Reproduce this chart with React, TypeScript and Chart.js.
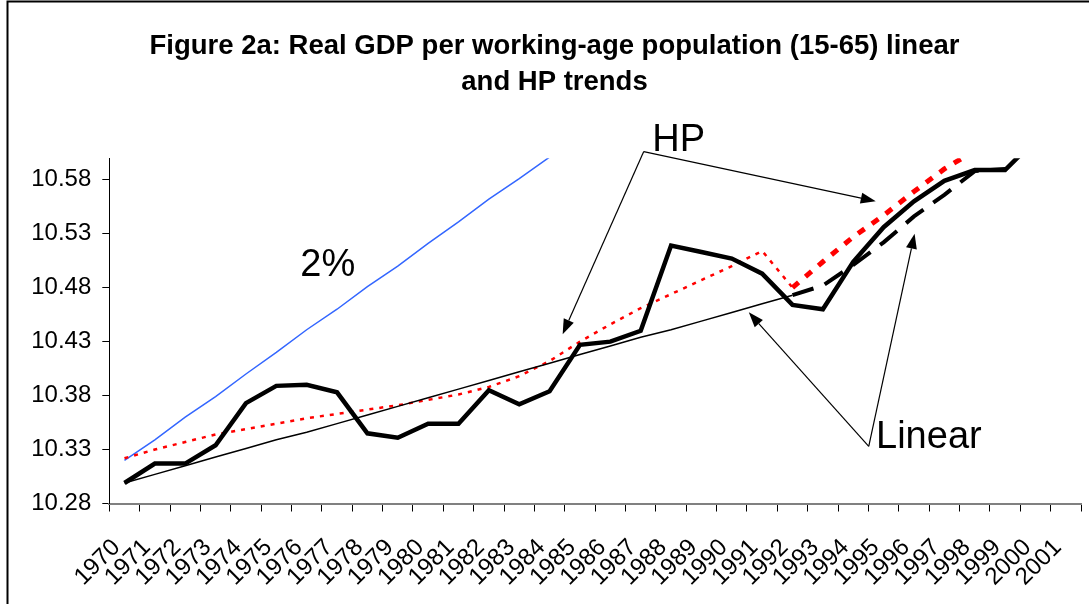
import React, { useEffect, useRef } from 'react';
import { Chart, registerables } from 'chart.js';

Chart.register(...registerables);

const years = [
  '1970', '1971', '1972', '1973', '1974', '1975', '1976', '1977', '1978', '1979',
  '1980', '1981', '1982', '1983', '1984', '1985', '1986', '1987', '1988', '1989',
  '1990', '1991', '1992', '1993', '1994', '1995', '1996', '1997', '1998', '1999',
  '2000', '2001',
];

// Actual log real GDP per working-age population, 1970-2000
const actualGdp = [
  10.299, 10.317, 10.317, 10.334, 10.373, 10.389, 10.390, 10.383, 10.345, 10.341,
  10.354, 10.354, 10.385, 10.372, 10.384, 10.427, 10.430, 10.440, 10.519, 10.513,
  10.507, 10.493, 10.464, 10.460, 10.504, 10.536, 10.560, 10.579, 10.589, 10.589,
  10.617,
];
// Linear trend 1970-1992 (thin solid)
const linearTrend = [
  10.299, 10.307, 10.315, 10.323, 10.331, 10.339, 10.346, 10.354, 10.362, 10.370,
  10.378, 10.386, 10.394, 10.402, 10.410, 10.418, 10.426, 10.434, 10.441, 10.449,
  10.457, 10.465, 10.473,
];
// Linear trend 1992-1999 (thick dashed)
const linearTrendLateStart = 22;
const linearTrendLate = [10.473, 10.482, 10.501, 10.522, 10.546, 10.566, 10.588, 10.590];
// HP trend 1970-1992 (thin dotted)
const hpTrend = [
  10.322, 10.330, 10.337, 10.344, 10.349, 10.354, 10.359, 10.363, 10.367, 10.371,
  10.376, 10.381, 10.388, 10.398, 10.412, 10.430, 10.446, 10.461, 10.474, 10.487,
  10.500, 10.514, 10.480,
];
// HP trend 1992-1999 (thick dotted)
const hpTrendLateStart = 22;
const hpTrendLate = [10.480, 10.504, 10.527, 10.547, 10.569, 10.590, 10.607, 10.622];
// 2% growth path 1970-1985
const twoPercentPath = [
  10.320, 10.339, 10.360, 10.379, 10.400, 10.420, 10.441, 10.460, 10.481, 10.500,
  10.521, 10.541, 10.562, 10.581, 10.601, 10.621,
];

const yTickValues = [10.28, 10.33, 10.38, 10.43, 10.48, 10.53, 10.58];
const yMin = 10.28;
const yMax = 10.6;

const titleLines = [
  'Figure 2a: Real GDP per working-age population (15-65) linear',
  'and HP trends',
];

// Annotation texts, positioned in data space (category index, value)
const noteTexts = ['HP', 'Linear', '2%'];
const noteX = [17.38, 24.75, 5.79];
const noteY = [10.6063, 10.3314, 10.4906];

// Arrows, in data space
const arrowFromX = [17.1, 17.1, 24.51, 24.51];
const arrowFromY = [10.6061, 10.6061, 10.3329, 10.3329];
const arrowToX = [14.43, 24.74, 20.56, 26.02];
const arrowToY = [10.4369, 10.5601, 10.4571, 10.53];

const FONT = '"Liberation Sans", Arial, Helvetica, sans-serif';

function placeAt(start: number, values: number[]): (number | null)[] {
  return years.map((_, i) => {
    const k = i - start;
    return k >= 0 && k < values.length ? values[k] : null;
  });
}

const overlayPlugin = {
  id: 'overlay',
  beforeDraw(chart: any) {
    const { ctx, width, height } = chart;
    ctx.save();
    ctx.fillStyle = '#ffffff';
    ctx.fillRect(0, 0, width, height);
    ctx.restore();
  },
  afterDraw(chart: any) {
    const { ctx, width, height } = chart;
    const xs = chart.scales.x;
    const ys = chart.scales.y;
    ctx.save();
    // outer frame (top and left edges visible)
    ctx.strokeStyle = '#000000';
    ctx.lineWidth = 2;
    ctx.beginPath();
    ctx.moveTo(7.5, height);
    ctx.lineTo(7.5, 1.5);
    ctx.lineTo(width, 1.5);
    ctx.stroke();

    // arrows
    ctx.fillStyle = '#000000';
    ctx.strokeStyle = '#000000';
    ctx.lineWidth = 1.2;
    for (let i = 0; i < arrowFromX.length; i++) {
      const x0 = xs.getPixelForValue(arrowFromX[i]);
      const y0 = ys.getPixelForValue(arrowFromY[i]);
      const x1 = xs.getPixelForValue(arrowToX[i]);
      const y1 = ys.getPixelForValue(arrowToY[i]);
      const ang = Math.atan2(y1 - y0, x1 - x0);
      const headLen = 15;
      const headHalf = 5.5;
      const bx = x1 - headLen * Math.cos(ang);
      const by = y1 - headLen * Math.sin(ang);
      ctx.beginPath();
      ctx.moveTo(x0, y0);
      ctx.lineTo(bx, by);
      ctx.stroke();
      ctx.beginPath();
      ctx.moveTo(x1, y1);
      ctx.lineTo(bx + headHalf * Math.sin(ang), by - headHalf * Math.cos(ang));
      ctx.lineTo(bx - headHalf * Math.sin(ang), by + headHalf * Math.cos(ang));
      ctx.closePath();
      ctx.fill();
    }

    // annotation texts
    ctx.font = `38px ${FONT}`;
    ctx.textAlign = 'left';
    ctx.textBaseline = 'alphabetic';
    ctx.fillStyle = '#000000';
    for (let i = 0; i < noteTexts.length; i++) {
      ctx.fillText(noteTexts[i], xs.getPixelForValue(noteX[i]), ys.getPixelForValue(noteY[i]));
    }
    ctx.restore();
  },
};

export default function App() {
  const canvasRef = useRef<HTMLCanvasElement | null>(null);

  useEffect(() => {
    const canvas = canvasRef.current;
    if (!canvas) return;
    const chart = new Chart(canvas, {
      type: 'line',
      data: {
        labels: years,
        datasets: [
          {
            label: 'Actual',
            data: placeAt(0, actualGdp),
            borderColor: '#000000',
            borderWidth: 4.5,
            pointRadius: 0,
            tension: 0,
            fill: false,
          },
          {
            label: 'HP trend (late)',
            data: placeAt(hpTrendLateStart, hpTrendLate),
            borderColor: '#ff0000',
            borderWidth: 5,
            borderDash: [8, 9],
            pointRadius: 0,
            tension: 0,
            fill: false,
          },
          {
            label: 'Linear trend (late)',
            data: placeAt(linearTrendLateStart, linearTrendLate),
            borderColor: '#000000',
            borderWidth: 4,
            borderDash: [22, 12],
            pointRadius: 0,
            tension: 0,
            fill: false,
          },
          {
            label: 'Linear trend',
            data: placeAt(0, linearTrend),
            borderColor: '#000000',
            borderWidth: 1.5,
            pointRadius: 0,
            tension: 0,
            fill: false,
          },
          {
            label: 'HP trend',
            data: placeAt(0, hpTrend),
            borderColor: '#ff0000',
            borderWidth: 2.5,
            borderDash: [4, 6],
            pointRadius: 0,
            tension: 0,
            fill: false,
          },
          {
            label: '2%',
            data: placeAt(0, twoPercentPath),
            borderColor: '#3366ff',
            borderWidth: 1.5,
            pointRadius: 0,
            tension: 0,
            fill: false,
          },
        ],
      },
      options: {
        animation: false,
        responsive: false,
        devicePixelRatio: 1,
        layout: { padding: { left: 28, right: 8, top: 0, bottom: 0 } },
        plugins: {
          legend: { display: false },
          tooltip: { enabled: false },
          title: {
            display: true,
            text: titleLines,
            color: '#000000',
            font: { family: FONT, size: 27.5, weight: 'bold', lineHeight: 1.33 },
            padding: { top: 28, bottom: 57 },
          },
        },
        scales: {
          x: {
            type: 'category',
            offset: true,
            grid: {
              display: true,
              offset: true,
              drawOnChartArea: false,
              drawTicks: true,
              tickLength: 8,
              color: '#000000',
            },
            border: { display: true, color: '#808080', width: 2 },
            ticks: {
              autoSkip: false,
              minRotation: 45,
              maxRotation: 45,
              padding: 22,
              labelOffset: -8,
              color: '#000000',
              font: { family: FONT, size: 24 },
            },
            afterFit: (scale: any) => {
              scale.height = 100.5;
              scale.paddingLeft = 0;
              scale.paddingRight = 0;
            },
          },
          y: {
            type: 'linear',
            min: yMin,
            max: yMax,
            grid: {
              display: true,
              drawOnChartArea: false,
              drawTicks: true,
              tickLength: 7,
              color: '#000000',
            },
            border: { display: true, color: '#000000', width: 1 },
            afterBuildTicks: (scale: any) => {
              scale.ticks = yTickValues.map((v) => ({ value: v }));
            },
            ticks: {
              padding: 11,
              color: '#000000',
              font: { family: FONT, size: 24 },
              callback: (v: any) => Number(v).toFixed(2),
            },
            afterFit: (scale: any) => {
              scale.width = 81.3;
              scale.paddingTop = 0;
              scale.paddingBottom = 0;
            },
          },
        },
      },
      plugins: [overlayPlugin],
    });
    return () => chart.destroy();
  }, []);

  return (
    <div style={{ position: 'absolute', left: 0, top: 0, width: 1089, height: 604 }}>
      <canvas ref={canvasRef} width={1089} height={604} style={{ display: 'block' }} />
    </div>
  );
}
